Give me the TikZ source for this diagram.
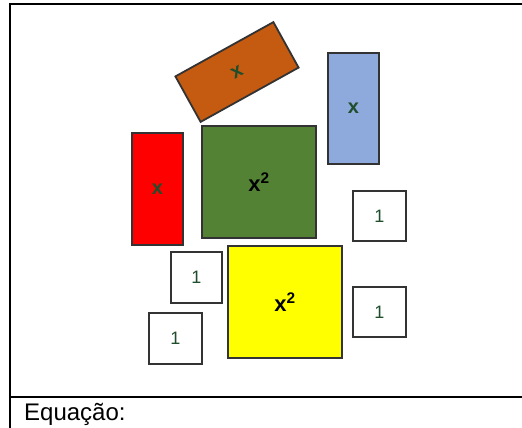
\documentclass[tikz,border=0pt]{standalone}
\usepackage{fontspec}
\setmainfont{Liberation Sans}
\definecolor{cOrange}{HTML}{C55A11}
\definecolor{cBlue}{HTML}{8EA9DB}
\definecolor{cRed}{HTML}{FF0000}
\definecolor{cGreen}{HTML}{548235}
\definecolor{cYellow}{HTML}{FFFF00}
\definecolor{cLabel}{HTML}{1F4E2C}
\definecolor{cEdge}{HTML}{333333}
\tikzset{
  tile/.style={draw=cEdge, line width=1.8pt, inner sep=0pt, anchor=center},
  xlab/.style={text=cLabel, font=\fontsize{20}{20}\selectfont\bfseries},
  sqlab/.style={text=black, font=\fontsize{22}{22}\selectfont\bfseries},
  onelab/.style={text=cLabel, font=\fontsize{18}{18}\selectfont},
}
\begin{document}
\begin{tikzpicture}[x=1pt,y=-1pt]
\useasboundingbox (0,0) rectangle (522,428);
\fill[white] (0,0) rectangle (522,428);
% frame
\draw[line width=1.2pt] (10,440) -- (10,4) -- (530,4);
\draw[line width=1.2pt] (10,397) -- (530,397);
\node[anchor=base west, font=\fontsize{24}{24}\selectfont, inner sep=0pt] (eq) at (24,420) {Equação:};
% tiles
\node[tile, fill=cOrange, minimum width=112pt, minimum height=52pt, rotate=29, xlab] (orange) at (237,72) {x};
\node[tile, fill=cBlue, minimum width=51pt, minimum height=111pt, xlab] (blue) at (353.5,108.5) {x};
\node[tile, fill=cRed, minimum width=51pt, minimum height=112pt, xlab] (red) at (157.5,189) {x};
\node[tile, fill=cGreen, minimum width=114pt, minimum height=112pt, sqlab] (green) at (259,182) {x\textsuperscript{2}};
\node[tile, fill=cYellow, minimum width=114pt, minimum height=112pt, sqlab] (yellow) at (285,302) {x\textsuperscript{2}};
\node[tile, fill=white, minimum width=53pt, minimum height=50pt, onelab] (oneA) at (379.5,216) {1};
\node[tile, fill=white, minimum width=51pt, minimum height=51pt, onelab] (oneB) at (196.5,277.5) {1};
\node[tile, fill=white, minimum width=53pt, minimum height=50pt, onelab] (oneC) at (379.5,312) {1};
\node[tile, fill=white, minimum width=53pt, minimum height=51pt, onelab] (oneD) at (175.5,338.5) {1};
\end{tikzpicture}
\end{document}
